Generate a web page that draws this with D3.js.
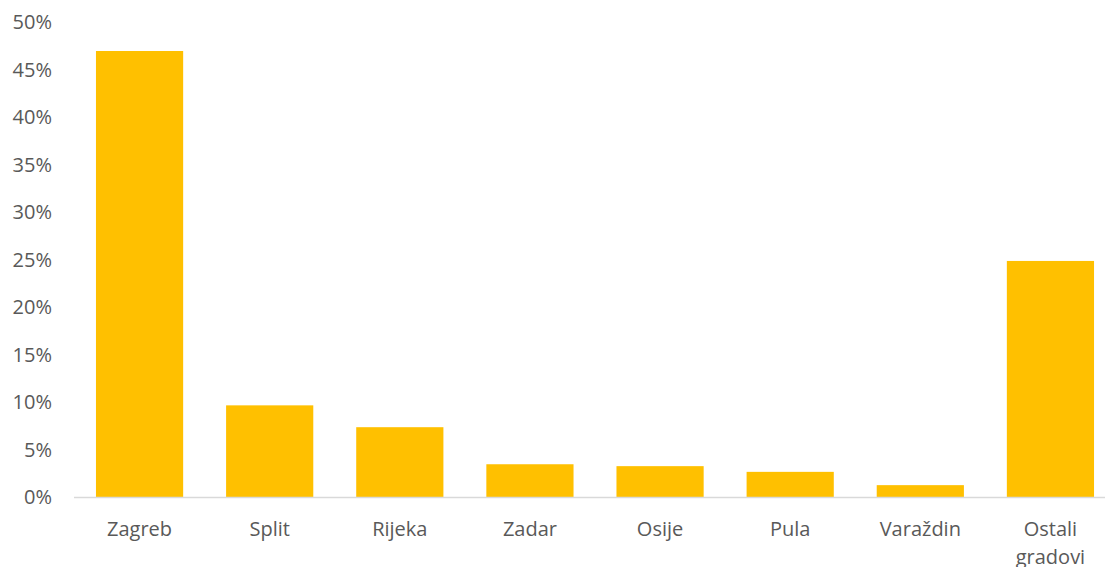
<!DOCTYPE html>
<html>
<head>
<meta charset="utf-8">
<script src="https://cdn.jsdelivr.net/npm/d3@7"></script>
<style>
  body { margin: 0; background: #fff; overflow: hidden; }
  svg text { font-family: "Open Sans", sans-serif; fill: #595959; }
</style>
</head>
<body>
<div id="chart"></div>
<script>
var cities = ["Zagreb", "Split", "Rijeka", "Zadar", "Osije", "Pula", "Varaždin", "Ostali gradovi"];
var shares = [0.47, 0.097, 0.074, 0.035, 0.033, 0.027, 0.013, 0.249];
var yTicks = [0, 0.05, 0.10, 0.15, 0.20, 0.25, 0.30, 0.35, 0.40, 0.45, 0.50];

var width = 1105, height = 567;
var bar_color = "#FFC000";
var axis_color = "#d9d9d9";
var font_size = 20;

var svg = d3.select("#chart").append("svg")
    .attr("width", width)
    .attr("height", height)
    .style("display", "block");

var x = d3.scaleBand()
    .domain(cities)
    .range([74.5, 1115.5])
    .paddingInner(0.33)
    .paddingOuter(0.165);

var y = d3.scaleLinear()
    .domain([0, 0.5])
    .range([497.5, 22.5]);

// y axis labels only
var yAxis = d3.axisLeft(y)
    .tickValues(yTicks)
    .tickFormat(d3.format(".0%"))
    .tickSize(0)
    .tickPadding(0);

var gy = svg.append("g")
    .attr("transform", "translate(52,0)")
    .call(yAxis);
gy.select(".domain").remove();
gy.selectAll("text")
    .style("font-size", font_size + "px")
    .style("font-family", "'Open Sans', sans-serif")
    .attr("fill", "#595959");

// bars
svg.append("g").selectAll("rect")
    .data(cities)
    .enter().append("rect")
    .attr("x", function(d) { return x(d); })
    .attr("width", x.bandwidth())
    .attr("y", function(d, i) { return y(shares[i]); })
    .attr("height", function(d, i) { return y(0) - y(shares[i]); })
    .attr("fill", bar_color);

// baseline
svg.append("line")
    .attr("x1", 74)
    .attr("x2", width)
    .attr("y1", y(0))
    .attr("y2", y(0))
    .attr("stroke", axis_color)
    .attr("stroke-width", 1.5);

// category labels, wrapped
var labels = svg.append("g").selectAll("text")
    .data(cities)
    .enter().append("text")
    .attr("text-anchor", "middle")
    .style("font-size", font_size + "px")
    .attr("transform", function(d) {
        return "translate(" + (x(d) + x.bandwidth() / 2) + ",536)";
    });

labels.each(function(d) {
    var words = d.split(" ");
    var t = d3.select(this);
    words.forEach(function(w, i) {
        t.append("tspan")
            .attr("x", 0)
            .attr("dy", i === 0 ? 0 : 28)
            .text(w);
    });
});
</script>
</body>
</html>
